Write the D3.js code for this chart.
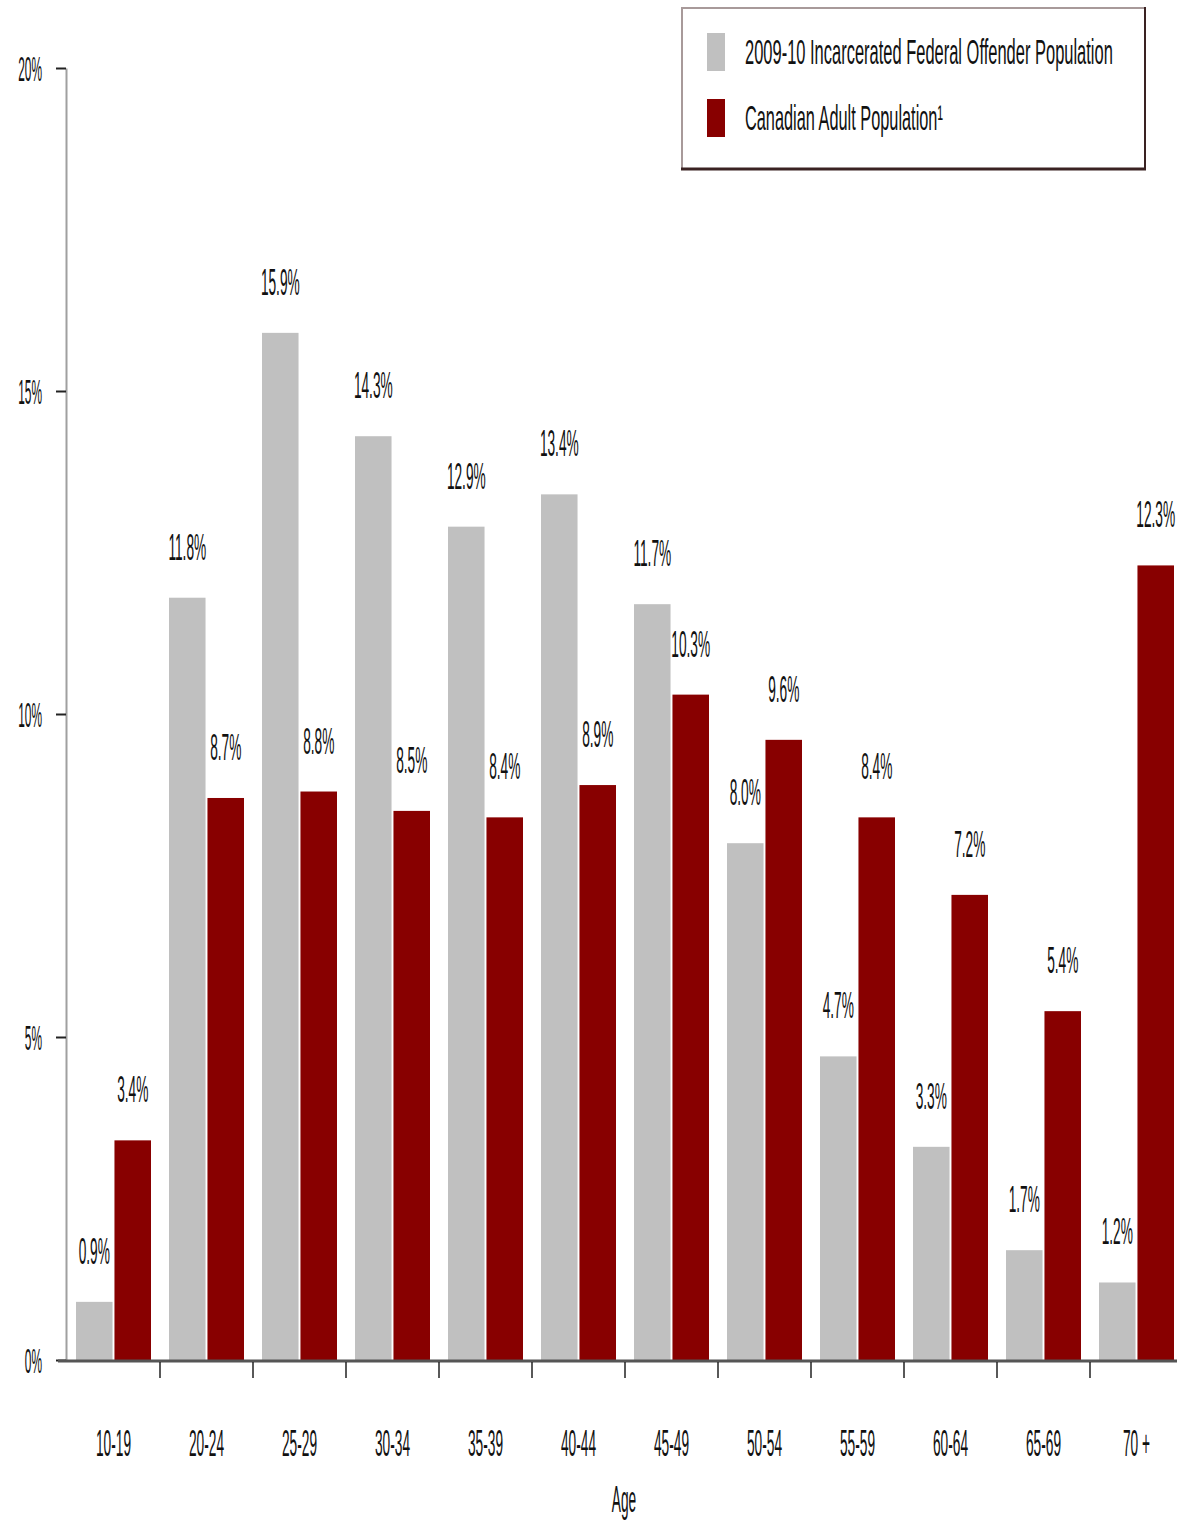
<!DOCTYPE html>
<html>
<head>
<meta charset="utf-8">
<script src="https://cdn.jsdelivr.net/npm/d3@7"></script>
<style>
  html, body { margin: 0; padding: 0; background: #fff; }
  svg { display: block; }
  text { font-family: "Liberation Sans", Arial, sans-serif; fill: #111; }
</style>
</head>
<body>
<svg id="chart" width="1177" height="1522"></svg>
<script>
const categories = ["10-19","20-24","25-29","30-34","35-39","40-44","45-49","50-54","55-59","60-64","65-69","70 +"];
const incarcerated = [0.9, 11.8, 15.9, 14.3, 12.9, 13.4, 11.7, 8.0, 4.7, 3.3, 1.7, 1.2];
const canadian = [3.4, 8.7, 8.8, 8.5, 8.4, 8.9, 10.3, 9.6, 8.4, 7.2, 5.4, 12.3];
const seriesNames = ["2009-10 Incarcerated Federal Offender Population", "Canadian Adult Population\u00B9"];
const seriesKeys = ["inc", "can"];
const yTicks = [0, 5, 10, 15, 20];
const colors = {inc: "#c0c0c0", can: "#880000"};

const svg = d3.select("#chart");
const SX = 0.37; // horizontal condensation of text

const y = d3.scaleLinear().domain([0, 20]).range([1360, 68]);
const x0 = d3.scaleBand().domain(categories).range([67, 1183]).padding(0);
const x1 = d3.scaleBand().domain(seriesKeys).range([9, 84]).paddingInner(0.05);

const data = categories.map((c, i) => ({cat: c, inc: incarcerated[i], can: canadian[i]}));

// Y axis
const yAxis = svg.append("g").attr("transform", "translate(66,0)")
  .call(d3.axisLeft(y).tickValues(yTicks).tickFormat(d => d + "%").tickSize(10).tickSizeOuter(0));
yAxis.select(".domain").attr("stroke", "#a0a0a0").attr("stroke-width", 2);
yAxis.selectAll(".tick line").attr("stroke", "#222").attr("stroke-width", 2);
yAxis.selectAll(".tick text")
  .attr("x", null).attr("dy", null)
  .attr("font-size", 35)
  .attr("text-anchor", "end")
  .attr("dominant-baseline", "central")
  .attr("transform", `translate(-24,0) scale(0.34,1)`);

// Bars
const groups = svg.append("g").selectAll("g.cat").data(data).join("g")
  .attr("class", "cat")
  .attr("transform", d => `translate(${x0(d.cat)},0)`);

groups.selectAll("rect").data(d => seriesKeys.map(k => ({key: k, value: d[k]}))).join("rect")
  .attr("x", d => x1(d.key))
  .attr("width", x1.bandwidth())
  .attr("y", d => y(d.value))
  .attr("height", d => y(0) - y(d.value))
  .attr("fill", d => colors[d.key]);

groups.selectAll("text.val").data(d => seriesKeys.map(k => ({key: k, value: d[k]}))).join("text")
  .attr("class", "val")
  .attr("font-size", 37)
  .attr("text-anchor", "middle")
  .attr("transform", d => `translate(${x1(d.key) + x1.bandwidth() / 2},${y(d.value) - 38}) scale(${SX},1)`)
  .text(d => d.value.toFixed(1) + "%");

// X axis line
svg.append("line")
  .attr("x1", 58).attr("x2", 1177)
  .attr("y1", y(0) + 1).attr("y2", y(0) + 1)
  .attr("stroke", "#555").attr("stroke-width", 3);

// X boundary ticks
svg.append("g").selectAll("line").data(categories.slice(0, -1)).join("line")
  .attr("x1", d => x0(d) + x0.step()).attr("x2", d => x0(d) + x0.step())
  .attr("y1", y(0) + 2).attr("y2", y(0) + 18)
  .attr("stroke", "#222").attr("stroke-width", 1.5);

// X labels
svg.append("g").selectAll("text").data(categories).join("text")
  .attr("font-size", 37)
  .attr("text-anchor", "middle")
  .attr("transform", d => `translate(${x0(d) + x0.bandwidth() / 2},1456) scale(${SX},1)`)
  .text(d => d);

// Axis title
svg.append("text")
  .attr("font-size", 37)
  .attr("text-anchor", "middle")
  .attr("transform", `translate(624,1512) scale(${SX},1)`)
  .text("Age");

// Legend
const lg = svg.append("g");
lg.append("rect").attr("x", 682).attr("y", 8).attr("width", 463).attr("height", 161)
  .attr("fill", "#fff").attr("stroke", "#a89a9a").attr("stroke-width", 2);
lg.append("line").attr("x1", 681).attr("x2", 1146).attr("y1", 169).attr("y2", 169)
  .attr("stroke", "#3a2222").attr("stroke-width", 3);
lg.append("line").attr("x1", 1145).attr("x2", 1145).attr("y1", 7).attr("y2", 170)
  .attr("stroke", "#3a2222").attr("stroke-width", 2);

const legendY = [33, 99];
const legendTextW = [368, 198];
seriesKeys.forEach((k, i) => {
  lg.append("rect").attr("x", 707).attr("y", legendY[i]).attr("width", 18).attr("height", 38)
    .attr("fill", colors[k]);
  const t = lg.append("text")
    .attr("font-size", 35)
    .text(seriesNames[i]);
  const natural = t.node().getComputedTextLength();
  const s = legendTextW[i] / natural;
  t.attr("transform", `translate(745,${legendY[i] + 31}) scale(${s},1)`);
});
</script>
</body>
</html>
